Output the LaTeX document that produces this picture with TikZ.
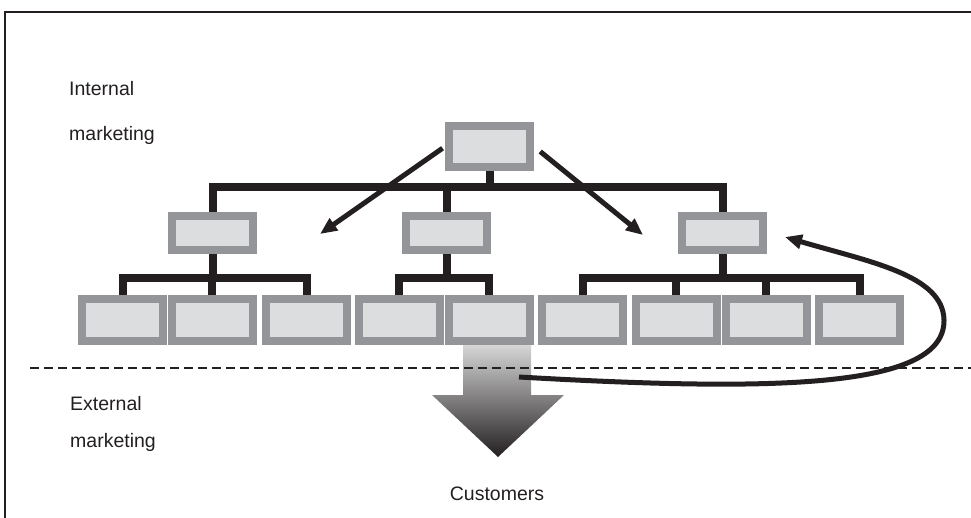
\documentclass[tikz,border=0pt]{standalone}
\usepackage{fontspec}
\setmainfont{Liberation Sans}
\usetikzlibrary{arrows.meta,backgrounds}

\definecolor{boxedge}{HTML}{939598}
\definecolor{boxfill}{HTML}{DCDDDF}
\definecolor{ink}{HTML}{231F20}
\definecolor{paleflow}{HTML}{D6D6D7}

\begin{document}
\begin{tikzpicture}[x=1pt,y=-1pt,
    unit/.style={draw=boxedge,fill=boxfill,line width=8pt,minimum width=81pt,minimum height=42pt,inner sep=0pt},
    link/.style={draw=ink,line width=8pt},
    push/.style={draw=ink,line width=5pt,-{Triangle[length=17pt,width=14pt]}},
    lbl/.style={font=\fontsize{19.5}{23}\selectfont,text=ink,inner sep=0pt}]
    \useasboundingbox (0,0) rectangle (971,518);

    % frame (top and left edge only)
    \draw [ink,line width=2.5pt] (5,518) -- (5,12) -- (971,12);

    % organisation chart
    \node[unit,minimum height=41pt] (top) at (489.5,146.5) {};
    \node[unit,minimum height=34pt] (m1) at (212.5,233) {};
    \node[unit,minimum height=34pt] (m2) at (446.5,233) {};
    \node[unit,minimum height=34pt] (m3) at (722.5,233) {};
    \foreach \n/\x in {1/122.5,2/212,3/306.5,4/399,5/489,6/582.5,7/676,8/766,9/859.5}
        \node[unit] (b\n) at (\x,320) {};

    \coordinate (lvl1) at (0,187);
    \coordinate (lvl2) at (0,278.5);
    \begin{scope}[on background layer]
        \draw [link] (m1.north) -- (m1.north |- lvl1) -- (m3.north |- lvl1) -- (m3.north);
        \draw [link] (top.south) -- (top.south |- lvl1);
        \draw [link] (m2.north) -- (m2.north |- lvl1);
        % left group
        \draw [link] (b1.north) -- (b1.north |- lvl2) -- (b3.north |- lvl2) -- (b3.north);
        \draw [link] (m1.south) -- (m1.south |- lvl2);
        \draw [link] (b2.north) -- (b2.north |- lvl2);
        % middle group
        \draw [link] (b4.north) -- (b4.north |- lvl2) -- (b5.north |- lvl2) -- (b5.north);
        \draw [link] (m2.south) -- (m2.south |- lvl2);
        % right group
        \draw [link] (b6.north) -- (b6.north |- lvl2) -- (b9.north |- lvl2) -- (b9.north);
        \draw [link] (m3.south) -- (m3.south |- lvl2);
        \draw [link] (b7.north) -- (b7.north |- lvl2);
        \draw [link] (b8.north) -- (b8.north |- lvl2);
    \end{scope}

    % downward flow to customers
    \shade [top color=paleflow,bottom color=ink]
        (463,345) -- (531,345) -- (531,395) -- (564,395) -- (498,457) -- (432,395) -- (463,395) -- cycle;

    % border between internal and external
    \draw [ink,line width=2pt,dash pattern=on 9pt off 5pt] (30,368) -- (971,368);

    % arrows
    \coordinate (tipL) at (320,234);
    \coordinate (tipR) at (643,235);
    \coordinate (back) at (785,237);
    \coordinate (ext) at (519,377);
    \draw [push,shorten <=3pt] (top.west) -- (tipL);
    \draw [push,shorten <=8pt] (top.east) -- (tipR);
    \draw [push] (ext) .. controls (780,392) and (945,388) .. (944,320)
        .. controls (943,275) and (870,262) .. (back);

    % labels
    \node[lbl,anchor=base west] (int1) at (69,96) {Internal};
    \node[lbl,anchor=base west] (int2) at (69,141) {marketing};
    \node[lbl,anchor=base west] (ext1) at (70,410) {External};
    \node[lbl,anchor=base west] (ext2) at (70,447) {marketing};
    \node[lbl,anchor=base] (cust) at (497,500) {Customers};
\end{tikzpicture}
\end{document}
